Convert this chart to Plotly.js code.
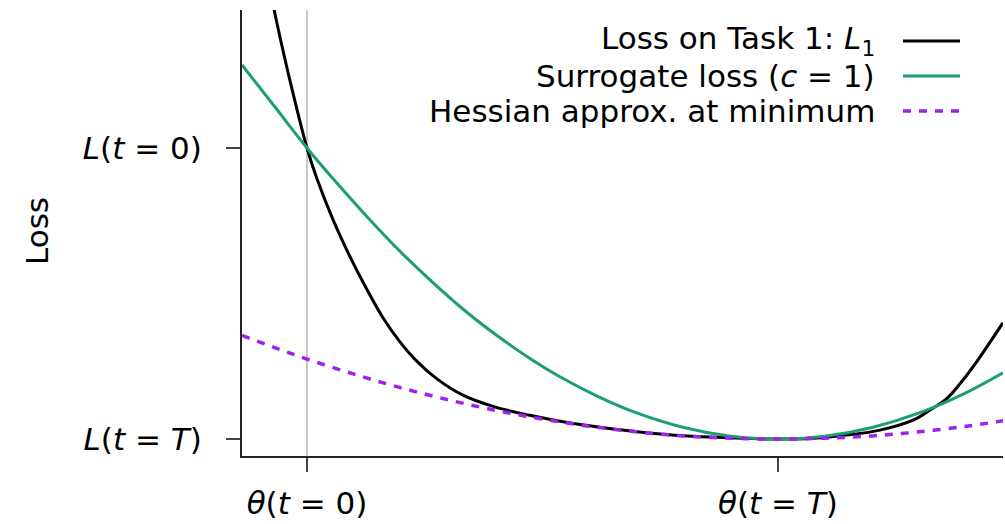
<!DOCTYPE html>
<html>
<head>
<meta charset="utf-8">
<script src="https://cdn.plot.ly/plotly-3.0.1.min.js"></script>
<style>html,body{margin:0;padding:0;background:#fff;}#chart{width:1005px;height:524px;}</style>
</head>
<body>
<div id="chart"></div>
<script>
// ---- data ----
const seriesNames = ["Loss on Task 1: <i>L</i><sub>1</sub>", "Surrogate loss (<i>c</i> = 1)", "Hessian approx. at minimum"];

const lossX = [-0.09, -0.064, -0.03, 0, 0.021, 0.055, 0.091, 0.127, 0.161, 0.197, 0.233, 0.276, 0.33, 0.4, 0.473, 0.55, 0.65, 0.756, 0.87, 1.0, 1.074, 1.146, 1.217, 1.287, 1.323, 1.359, 1.393, 1.429, 1.478];
const lossY = [1.64, 1.43, 1.19, 1.0, 0.895, 0.755, 0.628, 0.515, 0.418, 0.335, 0.268, 0.207, 0.152, 0.11, 0.082, 0.058, 0.035, 0.017, 0.006, 0.0, 0.003, 0.014, 0.031, 0.065, 0.10, 0.14, 0.203, 0.282, 0.40];

const surrX = [-0.138, -0.07, 0, 0.055, 0.127, 0.197, 0.268, 0.34, 0.41, 0.48, 0.537, 0.616, 0.7, 0.8, 0.9, 1.0, 1.1, 1.2, 1.3, 1.4, 1.478];
const surrY = [1.285, 1.145, 1.0, 0.895, 0.765, 0.646, 0.537, 0.435, 0.348, 0.270, 0.214, 0.148, 0.09, 0.04, 0.01, 0.0, 0.01, 0.04, 0.09, 0.16, 0.228];

const hessX = [-0.138, -0.07, 0, 0.1, 0.2, 0.3, 0.4, 0.5, 0.6, 0.7, 0.8, 0.9, 1.0, 1.1, 1.2, 1.3, 1.4, 1.478];
const hessY = [0.356, 0.315, 0.275, 0.223, 0.176, 0.135, 0.099, 0.069, 0.044, 0.025, 0.011, 0.003, 0.0, 0.003, 0.011, 0.025, 0.044, 0.063];

const xTickVals = [0, 1];
const xTickText = ["<i>θ</i>(<i>t</i> = 0)", "<i>θ</i>(<i>t</i> = <i>T</i>)"];
const yTickVals = [0, 1];
const yTickText = ["<i>L</i>(<i>t</i> = <i>T</i>)", "<i>L</i>(<i>t</i> = 0)"];
const refLineX = [0];
const yTitle = "Loss";

// ---- styling ----
const colors = ["#000000", "#1B9E77", "#A020F0"];
const FONT = "DejaVu Sans, Arial, sans-serif";
const FS = 31;

const traces = [
  {x: lossX, y: lossY, name: seriesNames[0], mode: "lines", line: {color: colors[0], width: 3, shape: "spline", smoothing: 1}, showlegend: false},
  {x: surrX, y: surrY, name: seriesNames[1], mode: "lines", line: {color: colors[1], width: 3, shape: "spline", smoothing: 1}, showlegend: false},
  {x: hessX, y: hessY, name: seriesNames[2], mode: "lines", line: {color: colors[2], width: 3.5, dash: "8px,8px", shape: "spline", smoothing: 1}, showlegend: false}
];

const L = 242, R = 2, T = 10, B = 68, W = 1005, H = 524;
const pw = W - L - R, ph = H - T - B;
const px2paperX = p => (p - L) / pw;
const px2paperY = p => (H - B - p) / ph;

const legendRowsY = [41, 76, 111];
const annotations = seriesNames.map((n, i) => ({
  xref: "paper", yref: "paper", x: px2paperX(877), y: px2paperY(legendRowsY[i]),
  xanchor: "right", yanchor: "middle", text: n, showarrow: false,
  font: {family: FONT, size: FS, color: "#000"}
}));
annotations.push({
  xref: "paper", yref: "paper", x: px2paperX(37), y: px2paperY(231),
  xanchor: "center", yanchor: "middle", text: yTitle, textangle: -90, showarrow: false,
  font: {family: FONT, size: FS, color: "#000"}
});

const shapes = seriesNames.map((n, i) => ({
  type: "line", xref: "paper", yref: "paper",
  x0: px2paperX(903), x1: px2paperX(960), y0: px2paperY(legendRowsY[i]), y1: px2paperY(legendRowsY[i]),
  line: {color: colors[i], width: traces[i].line.width, dash: traces[i].line.dash || "solid"}
}));
refLineX.forEach(v => shapes.push({
  type: "line", xref: "x", yref: "paper", x0: v, x1: v, y0: 0, y1: 1, layer: "below",
  line: {color: "#C8C8C8", width: 2}
}));

const layout = {
  width: W, height: H,
  margin: {l: L, r: R, t: T, b: B},
  paper_bgcolor: "#fff", plot_bgcolor: "#fff",
  font: {family: FONT, size: FS, color: "#000"},
  xaxis: {
    range: [-0.138, 1.478], showgrid: false, zeroline: false,
    showline: true, linecolor: "#222", linewidth: 2,
    ticks: "outside", ticklen: 14, tickwidth: 2, tickcolor: "#444",
    tickmode: "array", tickvals: xTickVals, ticktext: xTickText,
    tickfont: {family: FONT, size: FS, color: "#000"}, ticklabelstandoff: 5
  },
  yaxis: {
    range: [-0.058, 1.474], showgrid: false, zeroline: false,
    showline: true, linecolor: "#222", linewidth: 2,
    ticks: "outside", ticklen: 14, tickwidth: 2, tickcolor: "#444",
    tickmode: "array", tickvals: yTickVals, ticktext: yTickText,
    tickfont: {family: FONT, size: FS, color: "#000"}, ticklabelstandoff: 18
  },
  annotations: annotations,
  shapes: shapes,
  showlegend: false
};

Plotly.newPlot("chart", traces, layout, {displayModeBar: false, staticPlot: true});
</script>
</body>
</html>
